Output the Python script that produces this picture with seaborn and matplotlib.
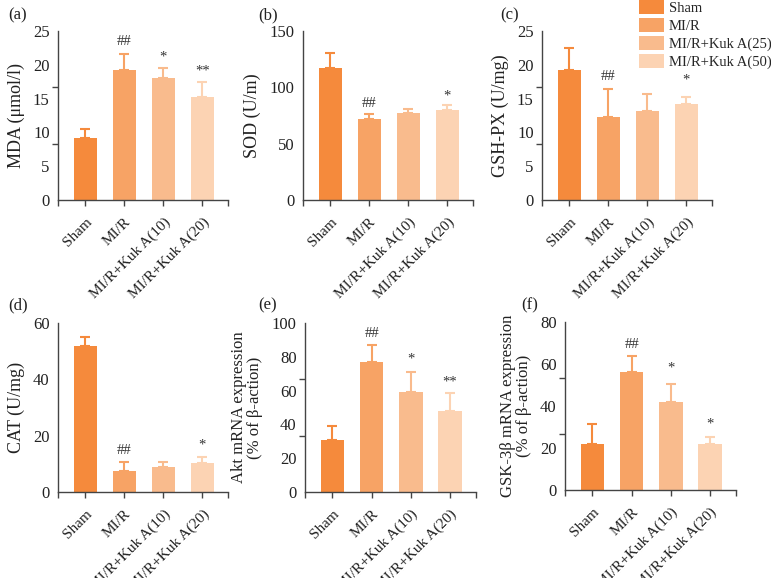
import numpy as np
import pandas as pd
import matplotlib
matplotlib.use("Agg")
import matplotlib.pyplot as plt
from matplotlib.patches import Patch
import seaborn as sns

sns.set_style("white")
plt.rcParams['font.family'] = ['Liberation Serif', 'DejaVu Serif']
plt.rcParams['mathtext.fontset'] = 'stix'

groups = ["Sham", "MI/R", "MI/R+Kuk A(10)", "MI/R+Kuk A(20)"]
legend_labels = ["Sham", "MI/R", "MI/R+Kuk A(25)", "MI/R+Kuk A(50)"]
colors = ["#F58A3C", "#F7A365", "#F9BB8D", "#FCD3B3"]

# panel (a) MDA
mda_mean = [9.1, 19.2, 18.1, 15.3]
mda_err = [1.45, 2.45, 1.4, 2.1]
mda_sig = ["", "##", "*", "**"]
mda_sig_y = [0, 23.4, 21.2, 19.1]
# panel (b) SOD
sod_mean = [117.5, 71.6, 76.9, 79.6]
sod_err = [12.7, 4.7, 4.2, 4.4]
sod_sig = ["", "##", "", "*"]
sod_sig_y = [0, 86, 0, 92]
# panel (c) GSH-PX
gsh_mean = [19.3, 12.3, 13.2, 14.2]
gsh_err = [3.2, 4.15, 2.5, 1.1]
gsh_sig = ["", "##", "", "*"]
gsh_sig_y = [0, 18.3, 0, 17.7]
# panel (d) CAT
cat_mean = [51.8, 7.5, 8.9, 10.3]
cat_err = [3.4, 3.0, 1.7, 2.1]
cat_sig = ["", "##", "", "*"]
cat_sig_y = [0, 14.8, 0, 16.6]
# panel (e) Akt
akt_mean = [30.9, 77.0, 59.4, 48.0]
akt_err = [8.1, 9.8, 11.7, 10.5]
akt_sig = ["", "##", "*", "**"]
akt_sig_y = [0, 93.9, 78.7, 65.0]
# panel (f) GSK-3beta
gsk_mean = [21.8, 56.0, 42.0, 21.8]
gsk_err = [9.4, 7.7, 8.5, 3.3]
gsk_sig = ["", "##", "*", "*"]
gsk_sig_y = [0, 69.4, 57.9, 31.5]

panels = [
    ("(a)", "MDA (μmol/l)", mda_mean, mda_err, mda_sig, mda_sig_y, 25, [0, 5, 10, 15, 20, 25]),
    ("(b)", "SOD (U/m)", sod_mean, sod_err, sod_sig, sod_sig_y, 150, [0, 50, 100, 150]),
    ("(c)", "GSH-PX (U/mg)", gsh_mean, gsh_err, gsh_sig, gsh_sig_y, 25, [0, 5, 10, 15, 20, 25]),
    ("(d)", "CAT (U/mg)", cat_mean, cat_err, cat_sig, cat_sig_y, 60, [0, 20, 40, 60]),
    ("(e)", "Akt mRNA expression\n(% of β-action)", akt_mean, akt_err, akt_sig, akt_sig_y, 100, [0, 20, 40, 60, 80, 100]),
    ("(f)", "GSK-3β mRNA expression\n(% of β-action)", gsk_mean, gsk_err, gsk_sig, gsk_sig_y, 80, [0, 20, 40, 60, 80]),
]

W, H = 771, 578
fig = plt.figure(figsize=(W / 100, H / 100), dpi=100)

# axes boxes in pixels: (left, right, top, bottom)
boxes = [
    (58, 228, 31, 200),
    (303, 473, 31, 200),
    (542, 712, 31, 200),
    (58, 228, 323, 492),
    (305, 476, 323, 492),
    (565, 736, 322, 490),
]
tag_pos = [(8, 15), (258, 15), (500, 15), (8, 305), (258, 305), (521, 305)]

axis_col = "#444444"
for (tag, ylab, mean, err, sig, sig_y, ymax, yt), (l, r, t, b), (tx, ty) in zip(panels, boxes, tag_pos):
    ax = fig.add_axes([l / W, 1 - b / H, (r - l) / W, (b - t) / H])
    df = pd.DataFrame({"group": groups, "value": mean})
    sns.barplot(data=df, x="group", y="value", hue="group", palette=colors,
                order=groups, hue_order=groups, width=0.6, legend=False,
                errorbar=None, ax=ax, linewidth=0, saturation=1)
    xs = np.arange(len(groups))
    for i in range(len(groups)):
        ax.errorbar(xs[i], mean[i], yerr=[[0], [err[i]]], fmt="none",
                    ecolor=colors[i], elinewidth=1.5, capsize=3.3, capthick=1.5, zorder=3)
        if sig[i]:
            ax.text(xs[i], sig_y[i], sig[i], ha="center", va="center", fontsize=10.5, color="#333333")
    ax.set_xlim(-0.7, 3.66)
    ax.set_ylim(0, ymax)
    ax.set_yticks(yt)
    ax.set_yticklabels([str(v) for v in yt])
    ax.set_yticks(np.linspace(0, ymax, 4), minor=True)
    ax.set_xticks([-0.7, 3.66], minor=True)
    ax.tick_params(axis="y", which="major", length=0, pad=6, labelsize=12, colors="#222222")
    ax.tick_params(axis="y", which="minor", length=4, width=1, color=axis_col, direction="out", left=True)
    ax.tick_params(axis="x", which="major", length=4, width=1, color=axis_col, direction="out", bottom=True,
                   labelsize=11, labelcolor="#222222", pad=7)
    ax.tick_params(axis="x", which="minor", length=4, width=1, color=axis_col, direction="out", bottom=True)
    ax.set_xticks(xs)
    ax.set_xticklabels(groups, rotation=45, ha="right", rotation_mode="anchor")
    ax.set_xlabel("")
    two_line = "\n" in ylab
    ax.set_ylabel(ylab, fontsize=12 if two_line else 13, color="#222222", labelpad=6, linespacing=1.0)
    for s in ["top", "right"]:
        ax.spines[s].set_visible(False)
    for s in ["left", "bottom"]:
        ax.spines[s].set_color(axis_col)
        ax.spines[s].set_linewidth(1.0)
    ax.set_facecolor("none")
    fig.text(tx / W, 1 - ty / H, tag, ha="left", va="center", fontsize=12, color="#222222")

handles = [Patch(facecolor=c, edgecolor="none") for c in colors]
fig.legend(handles, legend_labels, loc="upper left", bbox_to_anchor=(638 / W, 1 + 1 / H),
           frameon=False, fontsize=10.5, handlelength=1.7, handleheight=1.1,
           labelspacing=0.2, handletextpad=0.3, borderpad=0.1, borderaxespad=0)

fig.savefig("out.png", dpi=100)
